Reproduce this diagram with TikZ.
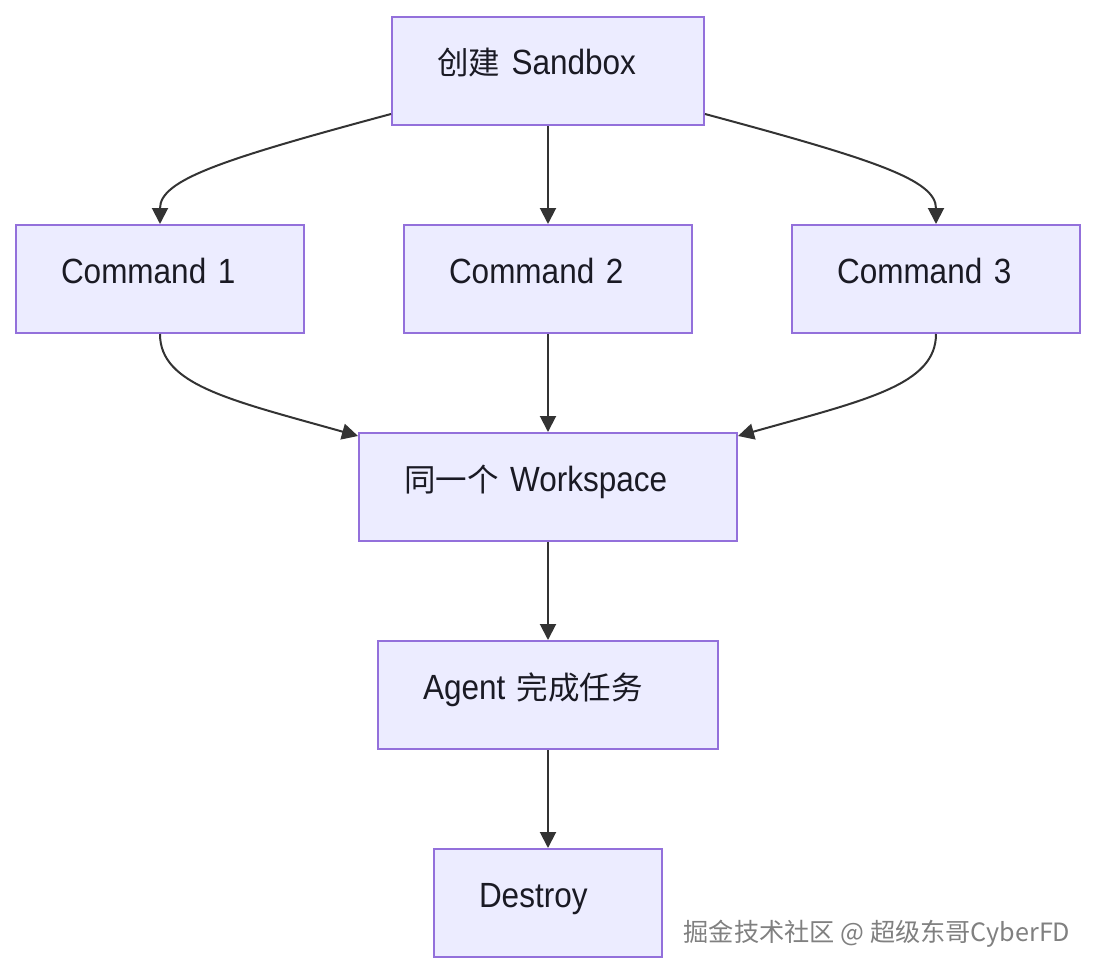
\documentclass[tikz,border=0pt]{standalone}
\usepackage{fontspec}
\setmainfont[FakeStretch=0.9]{Liberation Sans}
\newfontfamily\cjk[Scale=0.9]{Noto Sans CJK SC}
\usetikzlibrary{arrows.meta}
\definecolor{boxfill}{HTML}{ECECFF}
\definecolor{boxline}{HTML}{9370DB}
\definecolor{arrowgray}{HTML}{333333}
\definecolor{labeltext}{HTML}{1A1A24}
\newcommand{\zh}[1]{{\cjk #1}}
\begin{document}
\begin{tikzpicture}[x={(1pt,0)},y={(0,-1pt)},>={Triangle[length=16pt,width=16pt]},
	stepbox/.style={draw=boxline,fill=boxfill,line width=2pt,minimum height=108pt,inner xsep=45pt,inner ysep=0pt,
		align=left,text height=25pt,text depth=17pt,font=\fontsize{35}{42}\selectfont,text=labeltext},
	flow/.style={->,draw=arrowgray,line width=2pt}]
	\useasboundingbox (0,0) rectangle (1096,974);
	\node[stepbox,text width=222pt] (sandbox) at (548,71) {\zh{创建} Sandbox};
	\node[stepbox,text width=198pt] (cmd1) at (160,279) {Command 1};
	\node[stepbox,text width=198pt] (cmd2) at (548,279) {Command 2};
	\node[stepbox,text width=198pt] (cmd3) at (936,279) {Command 3};
	\node[stepbox,text width=288pt] (workspace) at (548,487) {\zh{同一个} Workspace};
	\node[stepbox,text width=250pt] (agent) at (548,695) {Agent \zh{完成任务}};
	\node[stepbox,text width=138pt] (destroy) at (548,903) {Destroy};
	\draw[flow] ([yshift=12pt]sandbox.south west) .. controls (220,160) and (160,180) .. (cmd1.north);
	\draw[flow] (sandbox) -- (cmd2);
	\draw[flow] ([yshift=12pt]sandbox.south east) .. controls (876,160) and (936,180) .. (cmd3.north);
	\draw[flow] (cmd1.south) .. controls (160,385) and (230,400) .. ([yshift=-4pt]workspace.north west);
	\draw[flow] (cmd2) -- (workspace);
	\draw[flow] (cmd3.south) .. controls (936,385) and (866,400) .. ([yshift=-4pt]workspace.north east);
	\draw[flow] (workspace) -- (agent);
	\draw[flow] (agent) -- (destroy);
	\node[font=\cjk\fontsize{28}{32}\selectfont,text=gray] (credit) at (877,934) {掘金技术社区 @ 超级东哥CyberFD};
\end{tikzpicture}
\end{document}
